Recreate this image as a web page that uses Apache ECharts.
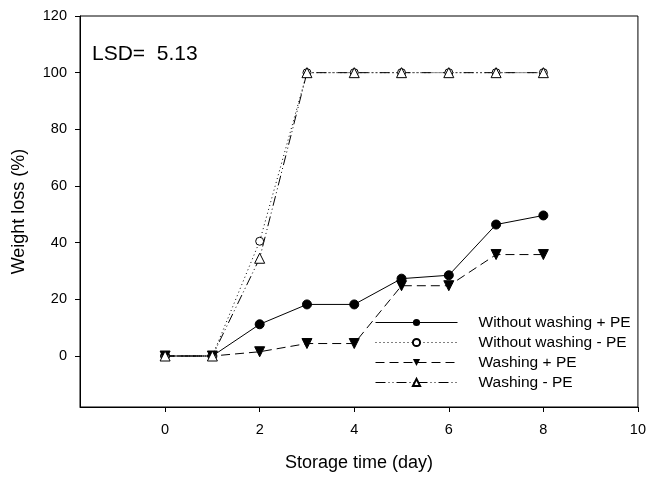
<!DOCTYPE html>
<html><head><meta charset="utf-8">
<script src="https://cdn.jsdelivr.net/npm/echarts@6/dist/echarts.min.js"></script>
<style>html,body{margin:0;padding:0;background:#fff}#c{width:649px;height:477px}</style>
</head><body><div id="c"></div>
<script>
const days = [0, 1, 2, 3, 4, 5, 6, 7, 8];
const withoutWashingPlusPE = [0, 0, 11.2, 18.2, 18.2, 27.3, 28.5, 46.4, 49.6];
const withoutWashingMinusPE = [0, 0, 40.5, 100, 100, 100, 100, 100, 100];
const washingPlusPE = [0, 0, 1.5, 4.4, 4.4, 24.8, 24.8, 35.8, 35.8];
const washingMinusPE = [0, 0, 34.5, 100, 100, 100, 100, 100, 100];
const seriesNames = ['Without washing + PE', 'Without washing - PE', 'Washing + PE', 'Washing - PE'];
const xTicks = [0, 2, 4, 6, 8, 10];
const yTicks = [0, 20, 40, 60, 80, 100, 120];
const lsdText = 'LSD=  5.13';

const font = 'Liberation Sans, Arial, sans-serif';
const pairs = v => days.map((d, i) => [d, v[i]]);
const chart = echarts.init(document.getElementById('c'), null, {renderer: 'canvas'});
const axisCommon = {
  axisLine: {show: true, onZero: false, lineStyle: {color: '#000', width: 1}},
  axisTick: {show: true, inside: false, length: 5, lineStyle: {color: '#000'}},
  splitLine: {show: false},
  nameTextStyle: {fontFamily: font, fontSize: 18, color: '#000'}
};
chart.setOption({
  animation: false,
  backgroundColor: '#fff',
  grid: {left: 80, right: 8, top: 16, bottom: 68, show: true, borderColor: '#000', borderWidth: 1, containLabel: false},
  xAxis: Object.assign({}, axisCommon, {
    type: 'value', min: -1.8, max: 10,
    name: 'Storage time (day)', nameLocation: 'middle', nameGap: 47,
    axisTick: Object.assign({}, axisCommon.axisTick, {customValues: xTicks}),
    axisLabel: {customValues: xTicks, fontFamily: font, fontSize: 14.5, color: '#000', margin: 15}
  }),
  yAxis: Object.assign({}, axisCommon, {
    type: 'value', min: -18, max: 120,
    name: 'Weight loss (%)', nameLocation: 'middle', nameGap: 52,
    axisTick: Object.assign({}, axisCommon.axisTick, {customValues: yTicks}),
    axisLabel: {customValues: yTicks, fontFamily: font, fontSize: 14.5, color: '#000', margin: 13}
  }),
  legend: {
    left: 370, top: 309.5, orient: 'vertical', itemWidth: 82, itemHeight: 9, itemGap: 4,
    lineStyle: {width: 1, color: '#000'},
    textStyle: {fontFamily: font, fontSize: 15.5, color: '#000', padding: [0, 0, 0, 16]},
    data: seriesNames
  },
  graphic: [{type: 'text', left: 92, top: 44, style: {text: lsdText, font: '21px ' + font, fill: '#000'}}],
  series: [
    {name: seriesNames[0], type: 'line', data: pairs(withoutWashingPlusPE), symbol: 'circle', symbolSize: 9,
     itemStyle: {color: '#000', borderColor: '#000'}, lineStyle: {color: '#000', width: 1, type: 'solid'}},
    {name: seriesNames[1], type: 'line', data: pairs(withoutWashingMinusPE), symbol: 'circle', symbolSize: 8,
     itemStyle: {color: '#fff', borderColor: '#000', borderWidth: 1}, lineStyle: {color: '#000', width: 1, type: [1, 3]}},
    {name: seriesNames[2], type: 'line', data: pairs(washingPlusPE), symbol: 'triangle', symbolRotate: 180, symbolSize: 10,
     itemStyle: {color: '#000', borderColor: '#000'}, lineStyle: {color: '#000', width: 1, type: [9, 5]}},
    {name: seriesNames[3], type: 'line', data: pairs(washingMinusPE), symbol: 'triangle', symbolSize: 10,
     itemStyle: {color: '#fff', borderColor: '#000', borderWidth: 1}, lineStyle: {color: '#000', width: 1, type: [10, 3, 1, 3, 1, 3]}}
  ]
});
</script></body></html>
